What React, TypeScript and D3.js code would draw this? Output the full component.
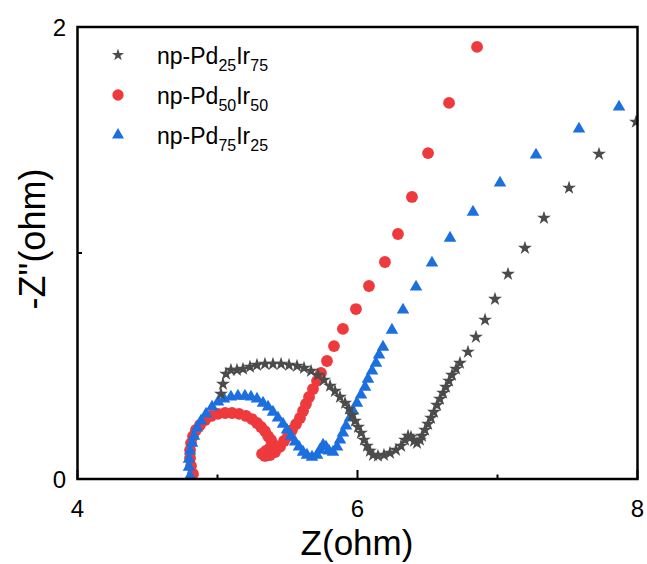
import React from "react";
import * as d3 from "d3";

// Nyquist data, [Z' (ohm), -Z'' (ohm)]
const pd25Ir75: [number, number][] = [
  [5.025, 0.376], [5.039, 0.42], [5.061, 0.465], [5.096, 0.482], [5.139, 0.482],
  [5.182, 0.487], [5.232, 0.496], [5.282, 0.504], [5.339, 0.509], [5.396, 0.509],
  [5.454, 0.509], [5.511, 0.504], [5.568, 0.5], [5.618, 0.491], [5.668, 0.478],
  [5.718, 0.46], [5.761, 0.438], [5.804, 0.412], [5.839, 0.389], [5.875, 0.363],
  [5.911, 0.336], [5.939, 0.31], [5.961, 0.283], [5.982, 0.257], [6.004, 0.23],
  [6.025, 0.204], [6.046, 0.173], [6.068, 0.146], [6.089, 0.124], [6.111, 0.106],
  [6.146, 0.102], [6.189, 0.106], [6.232, 0.115], [6.275, 0.128], [6.311, 0.146],
  [6.339, 0.173], [6.361, 0.19], [6.382, 0.186], [6.404, 0.168], [6.425, 0.159],
  [6.446, 0.173], [6.461, 0.19], [6.482, 0.217], [6.504, 0.243], [6.525, 0.27],
  [6.546, 0.296], [6.568, 0.327], [6.589, 0.354], [6.611, 0.381], [6.632, 0.407],
  [6.654, 0.434], [6.675, 0.46], [6.704, 0.487], [6.732, 0.513], [6.789, 0.562],
  [6.846, 0.628], [6.911, 0.704], [6.982, 0.796], [7.075, 0.907], [7.196, 1.022],
  [7.332, 1.155], [7.511, 1.288], [7.725, 1.438], [7.989, 1.58],
];

const pd50Ir50: [number, number][] = [
  [4.825, 0.022], [4.811, 0.058], [4.804, 0.093], [4.804, 0.128], [4.811, 0.159],
  [4.825, 0.19], [4.846, 0.217], [4.875, 0.239], [4.911, 0.261], [4.954, 0.279],
  [5.004, 0.288], [5.054, 0.292], [5.104, 0.292], [5.154, 0.288], [5.204, 0.279],
  [5.246, 0.265], [5.282, 0.248], [5.311, 0.23], [5.339, 0.212], [5.361, 0.19],
  [5.382, 0.173], [5.396, 0.155], [5.375, 0.137], [5.346, 0.124], [5.318, 0.111],
  [5.339, 0.102], [5.375, 0.106], [5.411, 0.119], [5.446, 0.142], [5.475, 0.168],
  [5.504, 0.19], [5.532, 0.217], [5.561, 0.243], [5.589, 0.27], [5.611, 0.301],
  [5.632, 0.332], [5.654, 0.363], [5.682, 0.398], [5.711, 0.434], [5.739, 0.469],
  [5.782, 0.522], [5.832, 0.588], [5.896, 0.664], [5.989, 0.752], [6.082, 0.854],
  [6.196, 0.96], [6.289, 1.084], [6.389, 1.248], [6.504, 1.442], [6.654, 1.664],
  [6.854, 1.912],
];

const pd75Ir25: [number, number][] = [
  [4.804, 0.013], [4.796, 0.053], [4.796, 0.088], [4.804, 0.124], [4.818, 0.159],
  [4.832, 0.19], [4.854, 0.226], [4.882, 0.257], [4.918, 0.288], [4.961, 0.319],
  [5.004, 0.341], [5.046, 0.354], [5.096, 0.363], [5.146, 0.367], [5.196, 0.367],
  [5.239, 0.363], [5.282, 0.354], [5.325, 0.336], [5.361, 0.319], [5.396, 0.296],
  [5.432, 0.27], [5.468, 0.243], [5.496, 0.217], [5.525, 0.19], [5.554, 0.164],
  [5.582, 0.142], [5.611, 0.119], [5.639, 0.106], [5.675, 0.097], [5.711, 0.106],
  [5.732, 0.128], [5.754, 0.15], [5.775, 0.142], [5.796, 0.124], [5.825, 0.119],
  [5.854, 0.142], [5.875, 0.173], [5.896, 0.204], [5.918, 0.235], [5.946, 0.27],
  [5.968, 0.301], [5.996, 0.336], [6.025, 0.372], [6.054, 0.407], [6.075, 0.442],
  [6.104, 0.478], [6.132, 0.513], [6.154, 0.549], [6.182, 0.584], [6.246, 0.659],
  [6.325, 0.748], [6.418, 0.85], [6.532, 0.956], [6.661, 1.066], [6.825, 1.181],
  [7.018, 1.31], [7.275, 1.434], [7.582, 1.549], [7.868, 1.646],
];

const xTicks = [4, 6, 8];
const xMinorTicks = [5, 7];
const yTicks = [0, 2];
const yMinorTicks = [1];

// legend names split as [prefix, sub1, mid, sub2]
const legendNames: string[][] = [
  ["np-Pd", "25", "Ir", "75"],
  ["np-Pd", "50", "Ir", "50"],
  ["np-Pd", "75", "Ir", "25"],
];

const W = 647;
const H = 564;
const M = { left: 77.5, right: 637.5, top: 27, bottom: 479 };
const FONT = "'Liberation Sans', Arial, Helvetica, sans-serif";

const STAR = "#4b4b4b";
const RED = "#ee3a3d";
const BLUE = "#1b6fdf";

export default function App() {
  const x = d3.scaleLinear().domain([4, 8]).range([M.left, M.right]);
  const y = d3.scaleLinear().domain([0, 2]).range([M.bottom, M.top]);

  const starPath = d3.symbol(d3.symbolStar, 60)()!;
  const circlePath = d3.symbol(d3.symbolCircle, 110)()!;
  const triPath = d3.symbol(d3.symbolTriangle, 68)()!;
  const starSmall = d3.symbol(d3.symbolStar, 46)()!;
  const circleSmall = d3.symbol(d3.symbolCircle, 100)()!;
  const triSmall = d3.symbol(d3.symbolTriangle, 62)()!;

  const series = [
    { data: pd50Ir50, path: circlePath, color: RED },
    { data: pd75Ir25, path: triPath, color: BLUE },
    { data: pd25Ir75, path: starPath, color: STAR },
  ];

  const legend = [
    { path: starSmall, color: STAR },
    { path: circleSmall, color: RED },
    { path: triSmall, color: BLUE },
  ];

  return (
    <svg
      width={W}
      height={H}
      style={{ position: "absolute", left: 0, top: 0, background: "#fff" }}
      fontFamily={FONT}
    >
      <defs>
        <clipPath id="plot-area">
          <rect x={M.left} y={M.top} width={M.right - M.left} height={M.bottom - M.top} />
        </clipPath>
      </defs>

      <g clipPath="url(#plot-area)">
        {series.map((s, i) => (
          <g key={i} fill={s.color}>
            {s.data.map((d, j) => (
              <path key={j} d={s.path} transform={`translate(${x(d[0])},${y(d[1])})`} />
            ))}
          </g>
        ))}
      </g>

      {/* ticks, pointing inward */}
      <g stroke="#000" strokeWidth={2}>
        {xTicks.map((t) => (
          <line key={"xt" + t} x1={x(t)} x2={x(t)} y1={M.bottom} y2={M.bottom - 9} />
        ))}
        {xMinorTicks.map((t) => (
          <line key={"xm" + t} x1={x(t)} x2={x(t)} y1={M.bottom} y2={M.bottom - 4.5} />
        ))}
        {yTicks.map((t) => (
          <line key={"yt" + t} x1={M.left} x2={M.left + 9} y1={y(t)} y2={y(t)} />
        ))}
        {yMinorTicks.map((t) => (
          <line key={"ym" + t} x1={M.left} x2={M.left + 4.5} y1={y(t)} y2={y(t)} />
        ))}
      </g>

      <rect
        x={M.left}
        y={M.top}
        width={M.right - M.left}
        height={M.bottom - M.top}
        fill="none"
        stroke="#000"
        strokeWidth={2.5}
      />

      {/* tick labels */}
      <g fontSize={24} fill="#000">
        {xTicks.map((t) => (
          <text key={"xl" + t} x={x(t)} y={517} textAnchor="middle">
            {t}
          </text>
        ))}
        {yTicks.map((t) => (
          <text key={"yl" + t} x={66} y={y(t) + 8.5} textAnchor="end">
            {t}
          </text>
        ))}
      </g>

      {/* axis titles */}
      <text x={357} y={555} textAnchor="middle" fontSize={35}>
        Z(ohm)
      </text>
      <text
        transform={`translate(45,239) rotate(-90)`}
        textAnchor="middle"
        fontSize={36}
      >
        -Z"(ohm)
      </text>

      {/* legend */}
      {legend.map((l, i) => {
        const cy = 55 + i * 40;
        const n = legendNames[i];
        return (
          <g key={"lg" + i}>
            <path d={l.path} fill={l.color} transform={`translate(118,${cy})`} />
            <text x={157} y={cy + 8.5} fontSize={23}>
              {n[0]}
              <tspan fontSize={16} dy={7}>{n[1]}</tspan>
              <tspan dy={-7}>{n[2]}</tspan>
              <tspan fontSize={16} dy={7}>{n[3]}</tspan>
            </text>
          </g>
        );
      })}
    </svg>
  );
}
